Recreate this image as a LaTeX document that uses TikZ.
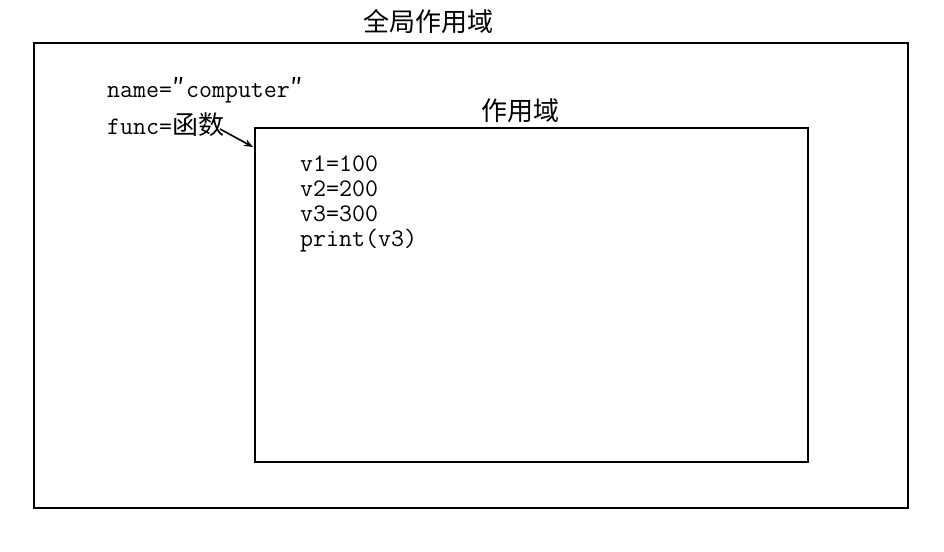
\documentclass[tikz,border=0pt]{standalone}
\usepackage{fontspec}
\newfontfamily\cjk{Noto Sans CJK SC}
\usetikzlibrary{arrows.meta}
\newcommand\qtmark{\makebox[14pt][c]{\fontsize{26}{26}\cjk ″}}
\begin{document}
\begin{tikzpicture}[x=1pt,y=-1pt,
  box/.style={draw,line width=1.9pt,inner sep=0pt,anchor=north west},
  code/.style={font=\fontsize{25.2}{25}\ttfamily,anchor=base west,inner sep=0pt},
  ttl/.style={font=\fontsize{26}{26}\cjk,inner sep=0pt}]
\useasboundingbox (0,0) rectangle (944,551);
\node[box,minimum width=874pt,minimum height=465pt] (outer) at (33,42) {};
\node[box,minimum width=553pt,minimum height=334pt] (inner) at (254,127) {};
\node[ttl] (gtitle) at (428,22) {全局作用域};
\node[ttl] (ltitle) at (520,111) {作用域};
\node[code] (name) at (107,97) {name=\qtmark computer\qtmark};
\node[code] (func) at (107,134) {func={\fontsize{26}{26}\cjk 函数}};
\node[code] (v1) at (300,171) {v1=100};
\node[code] (v2) at (300,196) {v2=200};
\node[code] (v3) at (300,221) {v3=300};
\node[code] (pr) at (300,246) {print(v3)};
\coordinate (a0) at (220,129);
\coordinate (a1) at (253,147);
\draw[line width=1.6pt,-{Stealth[length=9pt,width=7pt]}] (a0) -- (a1);
\end{tikzpicture}
\end{document}
